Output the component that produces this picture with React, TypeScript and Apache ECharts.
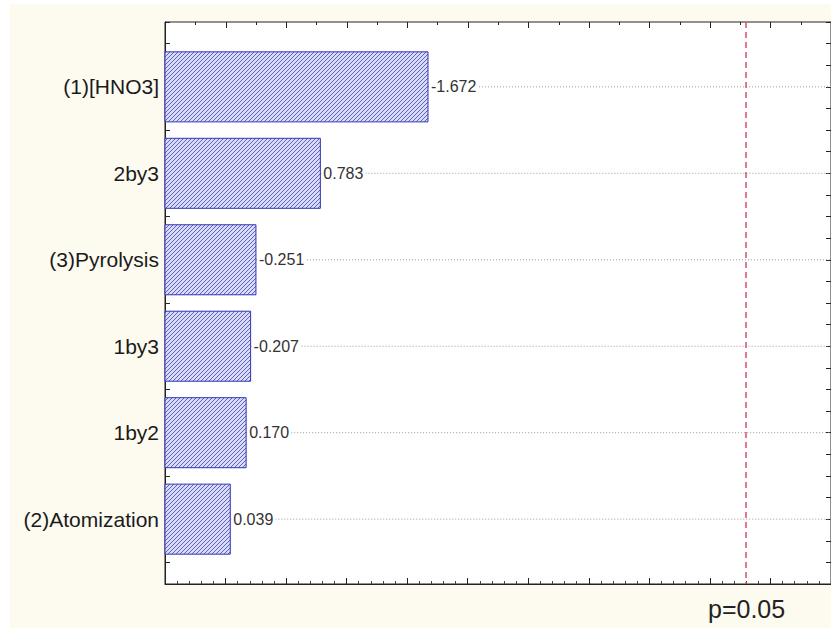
import React, { useEffect, useRef } from "react";
import * as echarts from "echarts";

const categories = ["(1)[HNO3]", "2by3", "(3)Pyrolysis", "1by3", "1by2", "(2)Atomization"];
const effects = [-1.672, 0.783, -0.251, -0.207, 0.17, 0.039];
const criticalT = 4.303;
const criticalLabel = "p=0.05";
const topTickValues = [
  -0.5, -0.25, 0, 0.25, 0.5, 0.75, 1, 1.25, 1.5, 1.75, 2, 2.25, 2.5, 2.75, 3, 3.25, 3.5, 3.75, 4, 4.25, 4.5, 4.75, 5,
];

const X_MIN = -0.5;
const X_MAX = 5;
const Y_MIN = 0.25;
const Y_MAX = 6.75;

function makePattern() {
  const c = document.createElement("canvas");
  c.width = 4;
  c.height = 4;
  const ctx = c.getContext("2d")!;
  ctx.fillStyle = "#dadcf5";
  ctx.fillRect(0, 0, 4, 4);
  ctx.fillStyle = "#5a60c6";
  for (let i = 0; i < 4; i++) ctx.fillRect(i, 3 - i, 1, 1);
  return { image: c, repeat: "repeat", imageWidth: 4, imageHeight: 4 } as any;
}

export default function App() {
  const ref = useRef<HTMLDivElement>(null);
  useEffect(() => {
    if (!ref.current) return;
    const chart = echarts.init(ref.current, null, { renderer: "svg" });
    const pattern = makePattern();
    const data = effects.map((e, i) => [Math.abs(e), i + 1, i]);
    const font = "'Liberation Sans', Arial, sans-serif";
    const axisLine = { show: true, onZero: false, lineStyle: { color: "#222", width: 1 } };
    chart.setOption({
      animation: false,
      backgroundColor: "#fdfbf0",
      grid: {
        left: 155,
        top: 18,
        width: 667,
        height: 562,
        show: true,
        backgroundColor: "#ffffff",
        borderWidth: 1,
        borderColor: "#222",
      },
      xAxis: [
        {
          type: "value",
          position: "bottom",
          min: X_MIN,
          max: X_MAX,
          interval: 0.5,
          axisLine,
          axisTick: { show: true, inside: true, length: 6, lineStyle: { color: "#222" } },
          minorTick: { show: true, splitNumber: 5, length: 3, lineStyle: { color: "#444" } },
          axisLabel: { show: false },
          splitLine: { show: false },
        },
      ],
      yAxis: [
        {
          type: "value",
          position: "left",
          inverse: true,
          min: Y_MIN,
          max: Y_MAX,
          interval: 0.25,
          axisLine,
          axisTick: { show: true, inside: true, length: 5, lineStyle: { color: "#222" } },
          splitLine: { show: false },
          axisLabel: {
            show: true,
            fontSize: 21,
            fontFamily: font,
            color: "#1a1a1a",
            margin: 6,
            formatter: (v: number) => {
              const r = Math.round(v);
              return Math.abs(v - r) < 1e-6 && r >= 1 && r <= categories.length ? categories[r - 1] : "";
            },
          },
        },
        {
          type: "value",
          position: "right",
          inverse: true,
          min: Y_MIN,
          max: Y_MAX,
          interval: 0.25,
          axisLine,
          axisTick: { show: true, inside: true, length: 5, lineStyle: { color: "#222" } },
          splitLine: { show: false },
          axisLabel: { show: false },
        },
      ],
      series: [
        {
          type: "custom",
          xAxisIndex: 0,
          yAxisIndex: 0,
          data,
          renderItem: (params: any, api: any) => {
            const v = api.value(0);
            const y = api.value(1);
            const idx = api.value(2);
            const start = api.coord([X_MIN, y]);
            const end = api.coord([v, y]);
            const right = api.coord([X_MAX, y]);
            const h = api.size([0, 0.81])[1];
            return {
              type: "group",
              children: [
                {
                  type: "line",
                  shape: { x1: end[0], y1: end[1], x2: right[0], y2: right[1] },
                  style: { stroke: "#9a9a9a", lineWidth: 1, lineDash: [1, 2] },
                },
                {
                  type: "rect",
                  shape: { x: start[0], y: start[1] - h / 2, width: end[0] - start[0], height: h },
                  style: { fill: pattern, stroke: "#3035b4", lineWidth: 1 },
                },
                {
                  type: "text",
                  x: end[0] + 2,
                  y: end[1],
                  style: {
                    text: effects[idx].toFixed(3),
                    fontSize: 16,
                    fontFamily: font,
                    fill: "#333",
                    align: "left",
                    verticalAlign: "middle",
                    backgroundColor: "#ffffff",
                    padding: [1, 2, 1, 1],
                  },
                },
              ],
            };
          },
          markLine: {
            silent: true,
            symbol: ["none", "none"],
            label: { show: false },
            lineStyle: { color: "#d6506a", type: [6, 4], width: 1.5 },
            data: [{ xAxis: criticalT }],
          },
        },
        {
          type: "custom",
          xAxisIndex: 0,
          yAxisIndex: 0,
          silent: true,
          clip: false,
          data: topTickValues.map((v) => [v]),
          renderItem: (params: any, api: any) => {
            const v = api.value(0);
            const p = api.coord([v, Y_MIN]);
            const major = Math.abs(v * 2 - Math.round(v * 2)) < 1e-6;
            const x = Math.round(p[0]) + 0.5;
            return {
              type: "line",
              shape: { x1: x, y1: p[1], x2: x, y2: p[1] + (major ? 6 : 3) },
              style: { stroke: "#222", lineWidth: 1 },
            };
          },
        },
      ],
    });
    const px = chart.convertToPixel({ xAxisIndex: 0 }, criticalT) as number;
    const bottomY = chart.convertToPixel({ yAxisIndex: 0 }, Y_MAX) as number;
    chart.setOption({
      graphic: [
        {
          type: "text",
          x: px,
          y: bottomY + 12,
          style: {
            text: criticalLabel,
            fontSize: 25,
            fontFamily: font,
            fill: "#222",
            align: "center",
            verticalAlign: "top",
          },
        },
      ],
    });
    return () => chart.dispose();
  }, []);
  return (
    <div style={{ position: "fixed", left: 0, top: 0, width: 831, height: 628, background: "#ffffff" }}>
      <div ref={ref} style={{ position: "absolute", left: 10, top: 4, width: 821, height: 624 }} />
    </div>
  );
}
